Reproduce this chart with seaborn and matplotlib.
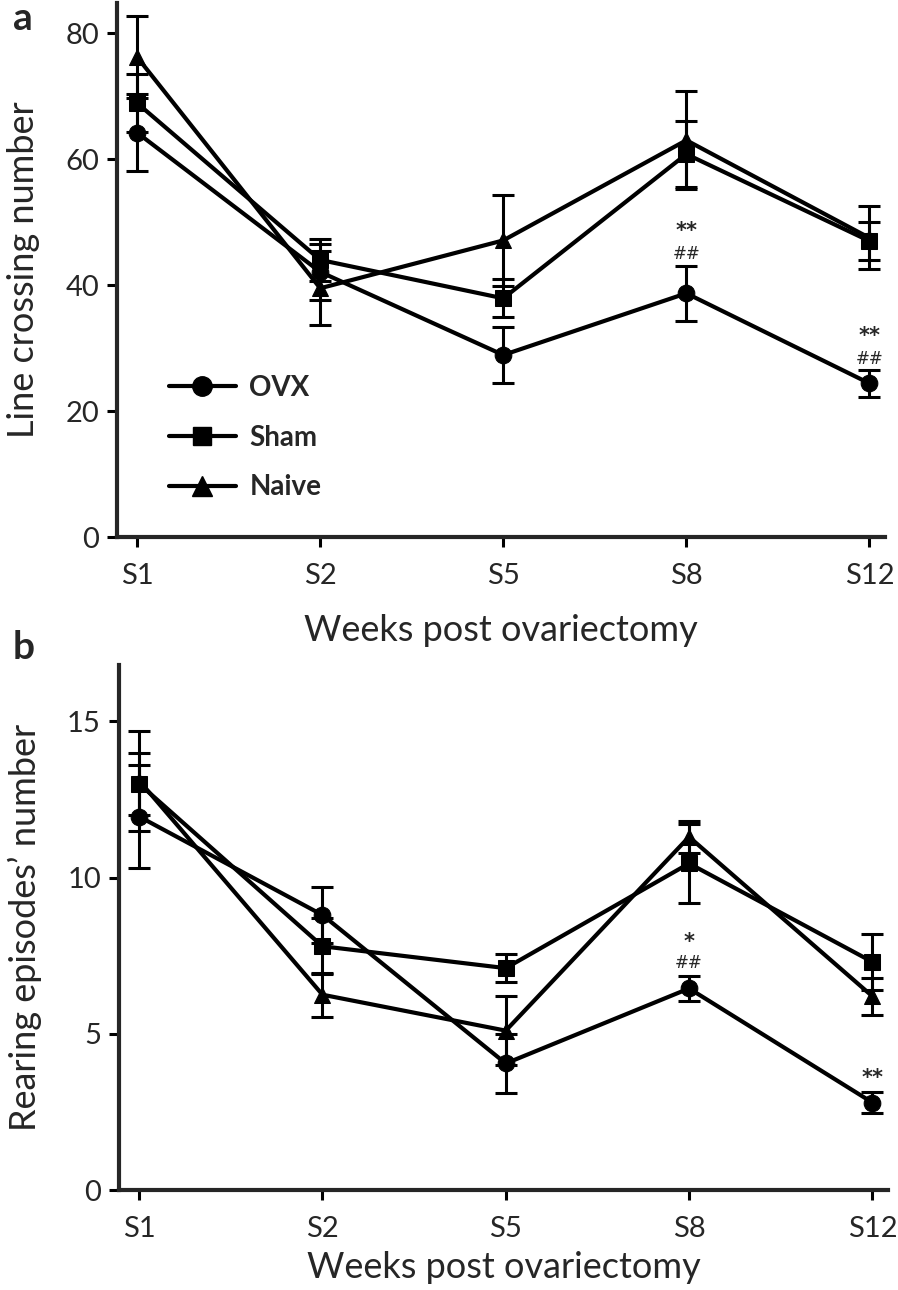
import numpy as np
import pandas as pd
import matplotlib
matplotlib.use("Agg")
import matplotlib.pyplot as plt
from matplotlib.lines import Line2D
import seaborn as sns

# Weeks after surgery (categorical x)
weeks = ["S1", "S2", "S5", "S8", "S12"]
groups = ["OVX", "Sham", "Naive"]

# Panel a: line crossing number (mean and SEM)
cross_ovx = [64.2, 42.1, 28.9, 38.7, 24.4]
cross_sham = [68.9, 44.0, 37.9, 60.8, 47.0]
cross_naive = [76.2, 39.5, 47.1, 63.0, 47.5]
cross_ovx_sem = [6.1, 4.5, 4.4, 4.4, 2.2]
cross_sham_sem = [4.6, 3.4, 3.0, 5.3, 3.0]
cross_naive_sem = [6.5, 5.9, 7.2, 7.8, 5.0]

# Panel b: rearing episodes
rear_ovx = [11.95, 8.8, 4.05, 6.45, 2.8]
rear_sham = [13.0, 7.8, 7.1, 10.45, 7.3]
rear_naive = [13.1, 6.25, 5.1, 11.3, 6.2]
rear_ovx_sem = [1.65, 0.9, 0.95, 0.4, 0.33]
rear_sham_sem = [1.0, 0.9, 0.45, 1.25, 0.9]
rear_naive_sem = [1.6, 0.7, 1.1, 0.5, 0.6]

# significance marks: (week, y, text)
cross_marks = [("S8", 48.6, "**"), ("S8", 45.0, "##"), ("S12", 31.9, "**"), ("S12", 28.3, "##")]
rear_marks = [("S8", 7.95, "*"), ("S8", 7.25, "##"), ("S12", 3.6, "**")]

markers = {"OVX": "o", "Sham": "s", "Naive": "^"}
msizes = {"OVX": 12, "Sham": 11, "Naive": 12}


def long_table(means, sems):
    rows = []
    for g, m, s in zip(groups, means, sems):
        for w, v, e in zip(weeks, m, s):
            rows.append({"week": w, "group": g, "value": v, "sem": e})
    return pd.DataFrame(rows)


sns.set_style("ticks")
plt.rcParams["font.family"] = ["Lato", "DejaVu Sans"]

fig = plt.figure(figsize=(8.98, 12.9), dpi=100)
ax_a = fig.add_axes([0.1303, 0.5837, 0.8552, 0.4140])
ax_b = fig.add_axes([0.1325, 0.0775, 0.8563, 0.4070])


def draw_panel(ax, df, ylim, yticks, ylabel, marks, xpad):
    for g in groups:
        sub = df[df["group"] == g]
        ax.errorbar(sub["week"], sub["value"], yerr=sub["sem"], fmt="none",
                    ecolor="black", elinewidth=2.2, capsize=8, capthick=2.2, zorder=2)
    sns.lineplot(data=df, x="week", y="value", style="group", markers=markers,
                 dashes=False, color="black", linewidth=3.0, ax=ax, legend=False,
                 markeredgecolor="black", markersize=12, zorder=3, sort=False)
    for line, g in zip(ax.get_lines()[-3:], groups):
        line.set_markersize(msizes[g])
    for w, y, t in marks:
        if "*" in t:
            ax.text(weeks.index(w), y, t, ha="center", va="center", fontsize=15,
                    fontweight="bold", family="DejaVu Sans")
        else:
            ax.text(weeks.index(w), y, t, ha="center", va="center", fontsize=12,
                    family="DejaVu Sans")
    ax.set_xlim(-0.11, 4.085)
    ax.set_ylim(*ylim)
    ax.set_yticks(yticks)
    ax.set_ylabel(ylabel, fontsize=26, labelpad=18)
    ax.set_xlabel("Weeks post ovariectomy", fontsize=26, labelpad=xpad)
    ax.tick_params(axis="both", labelsize=21, width=2.2, length=7, pad=6, color="black")
    ax.tick_params(axis="x", pad=12)
    for side in ["left", "bottom"]:
        ax.spines[side].set_linewidth(3.0)
    sns.despine(ax=ax)


df_a = long_table([cross_ovx, cross_sham, cross_naive],
                  [cross_ovx_sem, cross_sham_sem, cross_naive_sem])
df_b = long_table([rear_ovx, rear_sham, rear_naive],
                  [rear_ovx_sem, rear_sham_sem, rear_naive_sem])

draw_panel(ax_a, df_a, (0, 84.8), [0, 20, 40, 60, 80], "Line crossing number", cross_marks, 18)
draw_panel(ax_b, df_b, (0, 16.8), [0, 5, 10, 15], "Rearing episodes\u2019 number", rear_marks, 6)

# legend for panel a
handles = [Line2D([], [], color="black", linewidth=3.0, marker=markers[g],
                  markersize=msizes[g] + 2) for g in groups]
leg = ax_a.legend(handles, groups, loc="upper left", bbox_to_anchor=(0.035, 0.35),
                  frameon=False, handlelength=2.4, labelspacing=0.85, handletextpad=0.5,
                  prop={"size": 20, "weight": "bold"})

fig.text(0.014, 0.986, "a", fontsize=28, fontweight="bold", va="center")
fig.text(0.014, 0.498, "b", fontsize=28, fontweight="bold", va="center")

fig.savefig("out.png", dpi=100)
